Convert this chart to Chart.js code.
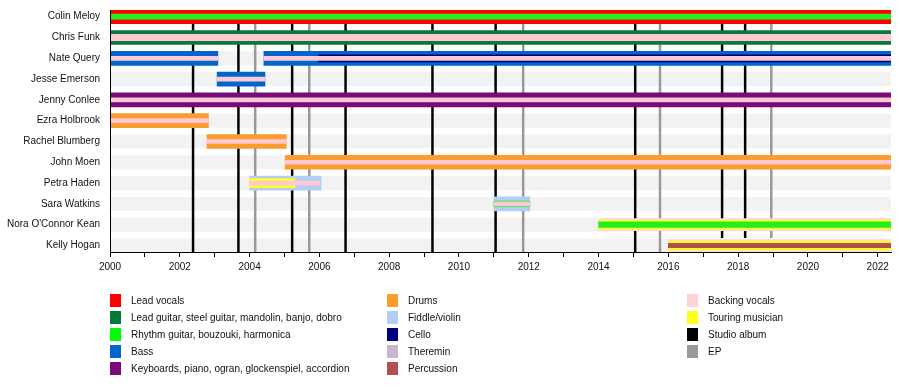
<!DOCTYPE html>
<html><head><meta charset="utf-8">
<script src="https://cdn.jsdelivr.net/npm/chart.js@4/dist/chart.umd.min.js"></script>
<style>
html,body{margin:0;padding:0;background:#fff;}
#wrap{position:relative;width:900px;height:387px;overflow:hidden;font-family:'Liberation Sans',Arial,sans-serif;}
#c{position:absolute;left:0;top:0;}
.li{position:absolute;height:13px;font-size:10px;line-height:13px;color:#111;white-space:nowrap;}
.sw{position:absolute;left:0;top:0;width:11px;height:13px;}
.lt{position:absolute;left:21px;top:0;}
</style></head><body>
<div id="wrap"><canvas id="c" width="900" height="387"></canvas><div id="legend"></div></div>
<script>
// ---------- data ----------
const END = 2022.38;
const members = ['Colin Meloy','Chris Funk','Nate Query','Jesse Emerson','Jenny Conlee','Ezra Holbrook',
  'Rachel Blumberg','John Moen','Petra Haden','Sara Watkins',"Nora O'Connor Kean",'Kelly Hogan'];
const tickYears = [2000,2001,2002,2003,2004,2005,2006,2007,2008,2009,2010,2011,2012,2013,2014,2015,2016,2017,2018,2019,2020,2021,2022];

const leadVocals   = [['Colin Meloy', 2000, END]];
const leadGuitar   = [['Chris Funk', 2000, END]];
const rhythmMain   = [['Colin Meloy', 2000, END]];
const rhythmOther  = [['Sara Watkins', 2011.0, 2012.03], ["Nora O'Connor Kean", 2014.0, END]];
const bass         = [['Nate Query', 2000, 2003.09], ['Jesse Emerson', 2003.07, 2004.44], ['Nate Query', 2004.41, END]];
const keyboards    = [['Jenny Conlee', 2000, END]];
const drums        = [['Ezra Holbrook', 2000, 2002.82], ['Rachel Blumberg', 2002.78, 2005.05], ['John Moen', 2005.02, END]];
const fiddle       = [['Petra Haden', 2004.0, 2006.05], ['Sara Watkins', 2011.0, 2012.03]];
const cello        = [['Nate Query', 2005.97, END]];
const percussion   = [['Kelly Hogan', 2016.0, END]];
const touring      = [['Petra Haden', 2004.0, 2005.3], ["Nora O'Connor Kean", 2014.0, END], ['Kelly Hogan', 2016.0, END]];
const backingMain  = [["Nora O'Connor Kean", 2014.0, END], ['Kelly Hogan', 2016.0, END]];
const backingChris = [['Chris Funk', 2000, END]];
const backingThin  = [['Nate Query', 2000, 2003.09], ['Jesse Emerson', 2003.07, 2004.44], ['Nate Query', 2004.41, END],
  ['Jenny Conlee', 2000, END], ['Ezra Holbrook', 2000, 2002.82], ['Rachel Blumberg', 2002.78, 2005.05],
  ['John Moen', 2005.02, END], ['Petra Haden', 2004.0, 2006.0], ['Sara Watkins', 2011.0, 2012.03]];
const studioAlbums = [2002.38, 2003.68, 2005.22, 2006.75, 2009.24, 2011.05, 2015.05, 2017.54, 2018.2];
const eps          = [2004.16, 2005.71, 2011.84, 2015.76, 2018.95];

const legendLabels = [
  ['Lead vocals','Lead guitar, steel guitar, mandolin, banjo, dobro','Rhythm guitar, bouzouki, harmonica','Bass','Keyboards, piano, ogran, glockenspiel, accordion'],
  ['Drums','Fiddle/violin','Cello','Theremin','Percussion'],
  ['Backing vocals','Touring musician','Studio album','EP']
];

// ---------- styles ----------
const C = {
  red:'#ff0000', dgreen:'#067a3d', bgreen:'#22ee22', blue:'#0066cc', purple:'#790a7a', orange:'#fa9c2e',
  lblue:'#b3cdf7', navy:'#00007f', theremin:'#c9b6cb', perc:'#b3504f', pink:'#ffc9d4', pinkWide:'#ffd6dc',
  yellow:'#ffff1e', black:'#000000', grey:'#999999'
};
const legendColors = [
  [C.red, C.dgreen, '#00ff00', C.blue, C.purple],
  [C.orange, C.lblue, C.navy, C.theremin, C.perc],
  ['#fdd3d6', C.yellow, C.black, C.grey]
];

const layers = [ // bottom to top
  [backingMain, C.pinkWide, 12],
  [leadVocals, C.red, 14], [leadGuitar, C.dgreen, 14], [bass, C.blue, 14], [keyboards, C.purple, 14],
  [drums, C.orange, 14], [fiddle, C.lblue, 14],
  [touring, C.yellow, 9],
  [cello, C.navy, 7], [rhythmOther, C.bgreen, 5.5], [rhythmMain, C.bgreen, 5], [percussion, C.perc, 4.5],
  [backingChris, C.pink, 6.5], [backingThin, C.pink, 4]
];
const datasets = layers.map(([arr, color, th], i) => ({
  data: arr.map(([m, s, e]) => ({x: [s, e], y: members.indexOf(m)})),
  backgroundColor: color, barThickness: th, grouped: false, borderWidth: 0,
  order: layers.length - i
}));

const kellyStart = percussion[0][1];
const backdrop = {
  id: 'backdrop',
  beforeDatasetsDraw(chart) {
    const {ctx, chartArea: a, scales: {x, y}} = chart;
    ctx.save();
    ctx.fillStyle = '#f2f2f2';
    members.forEach((m, i) => {
      const cy = y.getPixelForValue(i);
      ctx.fillRect(a.left, cy - 7, a.right - a.left, 14);
    });
    const kellyTop = y.getPixelForValue(members.length - 1) - 7.5;
    const draw = (years, color) => {
      ctx.strokeStyle = color; ctx.lineWidth = 2.5;
      years.forEach(yr => {
        const px = x.getPixelForValue(yr);
        const bottom = yr > kellyStart ? kellyTop : a.bottom;
        ctx.beginPath(); ctx.moveTo(px, a.top); ctx.lineTo(px, bottom); ctx.stroke();
      });
    };
    draw(eps, C.grey);
    draw(studioAlbums, C.black);
    ctx.restore();
  }
};

const font = {family: "'Liberation Sans', Arial, sans-serif", size: 10};
new Chart(document.getElementById('c'), {
  type: 'bar',
  data: {datasets},
  options: {
    indexAxis: 'y', responsive: false, animation: false, devicePixelRatio: 1,
    layout: {padding: {top: 10, right: 9, left: 0, bottom: 0}},
    plugins: {legend: {display: false}, tooltip: {enabled: false}},
    scales: {
      x: {
        type: 'linear', position: 'bottom', min: 2000, max: END, offset: false,
        afterBuildTicks: s => { s.ticks = tickYears.map(v => ({value: v})); },
        afterFit: s => { s.height = 135; },
        ticks: {font, color: '#111', padding: 4, maxRotation: 0, autoSkip: false,
          callback: v => (v % 2 === 0 ? String(v) : '')},
        grid: {drawOnChartArea: false, drawTicks: true, tickLength: 5, color: '#000', lineWidth: 1, offset: false},
        border: {display: true, color: '#000', width: 1, z: 1}
      },
      y: {
        type: 'linear', reverse: true, min: -0.322, max: 11.313, offset: false,
        afterBuildTicks: s => { s.ticks = members.map((m, i) => ({value: i})); },
        afterFit: s => { s.width = 110; s.paddingTop = 0; s.paddingBottom = 0; },
        ticks: {font, color: '#111', padding: 10, autoSkip: false, callback: v => members[v]},
        grid: {display: false, drawTicks: false, offset: false},
        border: {display: true, color: '#000', width: 1, z: 1}
      }
    }
  },
  plugins: [backdrop]
});

// ---------- HTML legend ----------
const colX = [110, 387, 687];
const lg = document.getElementById('legend');
legendLabels.forEach((col, ci) => col.forEach((label, ri) => {
  const d = document.createElement('div');
  d.className = 'li';
  d.style.left = colX[ci] + 'px';
  d.style.top = (294 + ri * 17) + 'px';
  d.innerHTML = '<span class="sw" style="background:' + legendColors[ci][ri] + '"></span><span class="lt"></span>';
  d.querySelector('.lt').textContent = label;
  lg.appendChild(d);
}));
</script>
</body></html>
